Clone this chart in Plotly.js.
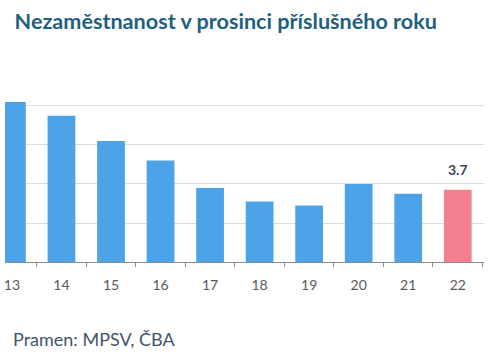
<!DOCTYPE html>
<html>
<head>
<meta charset="utf-8">
<script src="https://cdn.plot.ly/plotly-3.0.1.min.js"></script>
<style>
html,body{margin:0;padding:0;background:#fff;}
#chart{width:500px;height:361px;}
</style>
</head>
<body>
<div id="chart"></div>
<script>
const years = ['13','14','15','16','17','18','19','20','21','22'];
const unemployment = [8.2, 7.5, 6.2, 5.2, 3.8, 3.1, 2.9, 4.0, 3.5, 3.7];
const labelledIndex = 9;
const titleText = 'Nezaměstnanost v prosinci příslušného roku';
const sourceText = 'Pramen: MPSV, ČBA';

const blue = '#4DA3E8';
const pink = '#F2808F';

const colors = unemployment.map((v, i) => i === labelledIndex ? pink : blue);

const trace = {
  type: 'bar',
  x: years,
  y: unemployment,
  marker: {color: colors},
  hoverinfo: 'none'
};

const layout = {
  width: 500,
  height: 361,
  margin: {l: 5, r: 16, t: 66, b: 99},
  paper_bgcolor: '#ffffff',
  plot_bgcolor: '#ffffff',
  showlegend: false,
  bargap: 0.44,
  title: {
    text: '<b>' + titleText + '</b>',
    x: 0.02, xanchor: 'left', xref: 'paper',
    y: 0.94, yanchor: 'middle', yref: 'container',
    font: {family: 'Lato, sans-serif', size: 21.6, color: '#1F5F80'}
  },
  xaxis: {
    type: 'category',
    range: [-0.14, 9.53],
    showline: true,
    linecolor: '#8C8C8C',
    linewidth: 1,
    ticks: 'outside',
    tickson: 'boundaries',
    ticklen: 4,
    tickcolor: '#8C8C8C',
    ticklabelstandoff: 10,
    tickfont: {family: 'Lato, sans-serif', size: 14, color: '#595959'},
    showgrid: false,
    zeroline: false,
    fixedrange: true
  },
  yaxis: {
    range: [0, 10.05],
    dtick: 2,
    showgrid: true,
    gridcolor: '#DCDCDC',
    gridwidth: 1,
    showticklabels: false,
    zeroline: false,
    showline: false,
    fixedrange: true
  },
  annotations: [{
    text: '<b>' + unemployment[labelledIndex].toFixed(1) + '</b>',
    xref: 'x', yref: 'y',
    x: labelledIndex, y: unemployment[labelledIndex],
    xanchor: 'center', yanchor: 'bottom', yshift: 10,
    showarrow: false,
    font: {family: 'Lato, sans-serif', size: 14, color: '#404656'}
  }, {
    text: sourceText,
    xref: 'paper', yref: 'paper',
    x: -0.001, y: 0, xanchor: 'left', yanchor: 'middle',
    xshift: 6, yshift: -77,
    showarrow: false,
    font: {family: 'Lato, sans-serif', size: 18, color: '#44546A'}
  }]
};

Plotly.newPlot('chart', [trace], layout, {displayModeBar: false, staticPlot: true});
</script>
</body>
</html>
